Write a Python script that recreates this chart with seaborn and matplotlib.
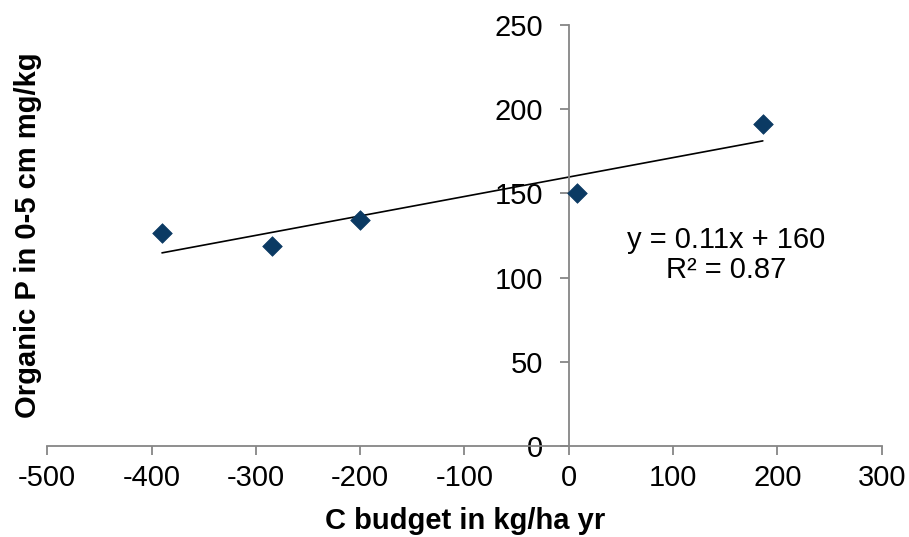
import numpy as np
import pandas as pd
import matplotlib
matplotlib.use("Agg")
import matplotlib.pyplot as plt
import seaborn as sns

# Data
c_budget = [-390, -285, -200, 8, 186]
organic_p = [126.5, 118.5, 134, 150, 191]
x_ticks = [-500, -400, -300, -200, -100, 0, 100, 200, 300]
y_ticks = [0, 50, 100, 150, 200, 250]
eq_text = "y = 0.11x + 160"
r2_text = "R² = 0.87"

df = pd.DataFrame({"x": c_budget, "y": organic_p})

sns.set_theme(style="white")
plt.rcParams['font.family'] = ['Liberation Sans', 'DejaVu Sans']
plt.rcParams['text.color'] = 'black'

fig = plt.figure(figsize=(9.09, 5.37), dpi=100)
ax = fig.add_axes([0.052, 0.170, 0.918, 0.783])

sns.regplot(data=df, x="x", y="y", ax=ax, scatter=False, ci=None, truncate=True,
            line_kws=dict(color="black", lw=1.2))
sns.scatterplot(data=df, x="x", y="y", ax=ax, marker="D", s=100,
                color="#0B3A63", edgecolor="#0B3A63", linewidth=0.5, zorder=3)

ax.set_xlim(-500, 300)
ax.set_ylim(0, 250)
ax.set_xticks(x_ticks)
ax.set_yticks(y_ticks)
ax.set_xticklabels([str(v) for v in x_ticks])
ax.set_yticklabels([str(v) for v in y_ticks])

for s in ["top", "right"]:
    ax.spines[s].set_visible(False)
ax.spines["left"].set_position(("data", 0))
ax.spines["bottom"].set_position(("data", 0))
for s in ["left", "bottom"]:
    ax.spines[s].set_color("#868686")
    ax.spines[s].set_linewidth(1.3)
ax.tick_params(axis="both", direction="out", length=6.5, width=1.3, color="#868686",
               labelcolor="black", labelsize=21, bottom=True, left=True)
ax.tick_params(axis="x", pad=7)
ax.tick_params(axis="y", pad=12)

ax.set_xlabel("C budget in kg/ha yr", fontsize=21, fontweight="bold", color="black")
ax.set_ylabel("Organic P in 0-5 cm mg/kg", fontsize=21, fontweight="bold", color="black")
ax.xaxis.label.set_va("center")
ax.yaxis.label.set_va("center")
ax.xaxis.set_label_coords(465 / 909, 1 - 521 / 537, transform=fig.transFigure)
ax.yaxis.set_label_coords(28 / 909, 1 - 235 / 537, transform=fig.transFigure)

fig.text(726 / 909, 1 - 240 / 537, eq_text, fontsize=21, ha="center", va="center", color="black")
fig.text(726 / 909, 1 - 270 / 537, r2_text, fontsize=21, ha="center", va="center", color="black")

fig.savefig("out.png", dpi=100)
